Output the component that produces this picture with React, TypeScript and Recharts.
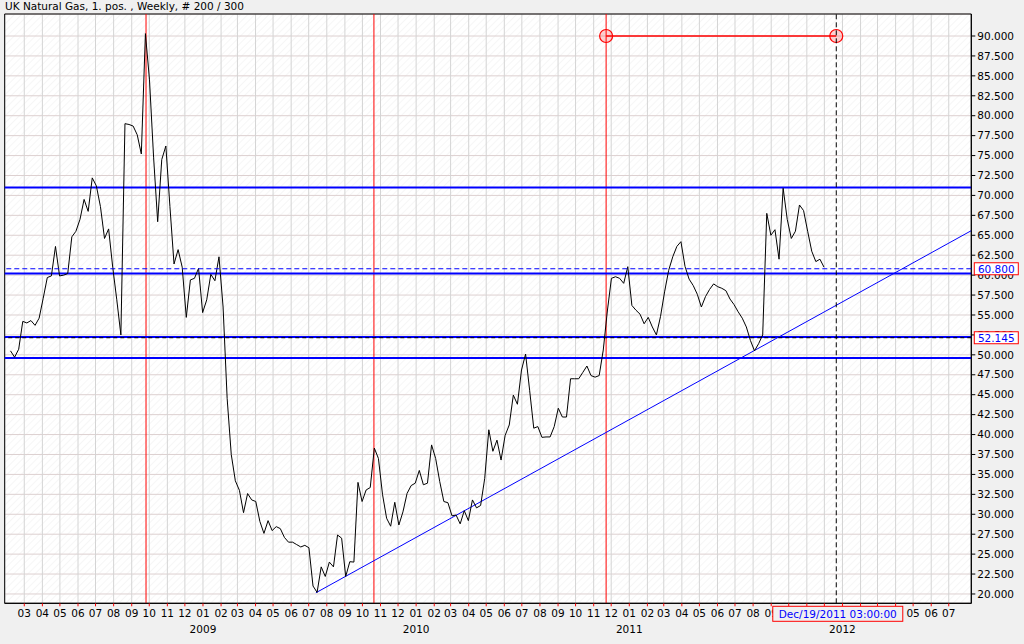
import React from 'react';
import { LineChart, Line, XAxis, YAxis, CartesianGrid, ReferenceLine, ReferenceDot, ReferenceArea } from 'recharts';

// weekly closes (200 bars)
const gasPrices = [
  50.5, 49.7, 50.7, 54.2, 54.0, 54.3, 53.7, 54.6, 57.1, 59.7,
  59.9, 63.6, 59.9, 60.0, 60.2, 64.8, 65.5, 67.0, 69.5, 68.0,
  72.2, 71.2, 68.6, 64.6, 65.8, 61.0, 56.9, 52.5, 79.0, 78.9,
  78.7, 77.6, 75.2, 90.3, 84.5, 74.8, 66.7, 74.5, 76.2, 68.6,
  61.4, 63.2, 61.0, 54.7, 59.4, 59.6, 60.85, 55.3, 56.9, 60.1,
  59.3, 62.3, 56.0, 44.5, 37.5, 34.2, 33.0, 30.2, 32.6, 31.8,
  31.6, 29.1, 27.6, 29.2, 27.95, 28.45, 28.2, 27.1, 26.5, 26.5,
  26.2, 25.9, 26.1, 25.8, 21.0, 20.2, 23.4, 22.2, 24.0, 23.4,
  27.4, 27.0, 22.2, 24.05, 24.0, 34.0, 31.6, 33.05, 33.35, 38.3,
  37.0, 32.5, 29.5, 28.5, 31.5, 28.65, 30.3, 32.6, 33.6, 33.9,
  35.5, 33.7, 33.9, 38.7, 37.0, 34.1, 31.6, 31.45, 29.8, 29.9,
  28.8, 30.45, 29.2, 31.8, 30.8, 31.1, 34.5, 40.6, 37.9, 39.3,
  36.8, 39.9, 41.2, 44.95, 43.8, 48.1, 50.1, 45.5, 40.8, 41.0,
  39.65, 39.7, 39.7, 41.0, 43.3, 42.2, 42.2, 47.0, 47.0, 47.0,
  47.8, 48.6, 47.4, 47.2, 47.4, 50.6, 55.5, 59.6, 59.8, 59.6,
  58.97, 61.06, 56.2, 55.6, 55.1, 53.9, 54.7, 53.5, 52.5, 54.8,
  57.9, 60.6, 62.3, 63.6, 64.2, 61.1, 59.5, 58.7, 57.6, 56.0,
  57.3, 58.2, 58.9, 58.55, 58.35, 58.05, 57.0, 56.3, 55.4, 54.6,
  53.5, 51.8, 50.5, 51.4, 52.5, 67.75, 65.0, 65.7, 62.0, 70.9,
  67.0, 64.6, 65.5, 68.8, 68.1, 65.5, 63.0, 61.7, 62.0, 61.0,
];

const yTicks = [20, 22.5, 25, 27.5, 30, 32.5, 35, 37.5, 40, 42.5, 45, 47.5, 50, 52.5, 55, 57.5, 60, 62.5, 65, 67.5, 70, 72.5, 75, 77.5, 80, 82.5, 85, 87.5, 90];
const supportLevels = [71.0, 60.2, 52.25, 49.6];
const redMarkers = [33.15, 88.9, 145.7];
const trendLine = [{ x: 74.7, y: 20.15 }, { x: 235, y: 65.57 }];
const rangeLine = [{ x: 145.7, y: 90 }, { x: 202.0, y: 90 }];
const lastPrice = 60.8;
const cursorPrice = 52.145;
const cursorWeek = 202.0;
const cursorLabel = 'Dec/19/2011 03:00:00';

// week index 0 = Feb 6 2008
const START = Date.UTC(2008, 1, 6, 10);
const WEEK = 7 * 24 * 3600 * 1000;
const weekOf = (y: number, m: number) => (Date.UTC(y, m - 1, 1) - START) / WEEK;

const monthTicks: { v: number; label: string; year: string | null }[] = [];
for (let k = 0; k < 53; k++) {
  const y = 2008 + Math.floor((2 + k) / 12);
  const m = ((2 + k) % 12) + 1;
  monthTicks.push({ v: weekOf(y, m), label: String(m).padStart(2, '0'), year: m === 1 ? String(y) : null });
}

const data = gasPrices.map((v, i) => ({ i, v }));
const font = 'DejaVu Sans';

// month labels that sit fully under the cursor date box are not drawn
const underDateBox = (v: number) => v > cursorWeek - 14 && v < cursorWeek + 15;

const MonthTick = (props: any) => {
  const { x, y, payload } = props;
  const t = monthTicks.find(m => Math.abs(m.v - payload.value) < 0.01);
  if (!t) return null;
  const hideMonth = underDateBox(t.v);
  return (
    <g>
      {!hideMonth && <text x={x} y={y + 9} textAnchor="middle" fontSize={10.5} fontFamily={font} fill="#000">{t.label}</text>}
      {t.year && <text x={x} y={y + 25} textAnchor="middle" fontSize={10.5} fontFamily={font} fill="#000">{t.year}</text>}
    </g>
  );
};

const PriceBox = (props: any) => {
  const { viewBox, text } = props;
  const bx = viewBox.x + viewBox.width + 3;
  return (
    <g>
      <rect x={bx} y={viewBox.y - 6} width={44} height={12} fill="#fff" stroke="#ff0000" />
      <text x={bx + 22} y={viewBox.y + 4} textAnchor="middle" fontSize={10.5} fontFamily={font} fill="#0000ff">{text}</text>
    </g>
  );
};

const DateBox = (props: any) => {
  const { viewBox } = props;
  const cx = viewBox.x + 1.5;
  const by = viewBox.y + viewBox.height + 3;
  return (
    <g>
      <rect x={cx - 65} y={by} width={130} height={15} fill="#f0f0f0" stroke="#ff0000" />
      <text x={cx} y={by + 11.5} textAnchor="middle" fontSize={10.5} fontFamily={font} fill="#0000ff">{cursorLabel}</text>
    </g>
  );
};

const App: React.FC = () => {
  return (
    <div style={{ position: 'absolute', left: 0, top: 0, width: 1024, height: 644, background: '#f0f0f0', overflow: 'hidden' }}>
      <div style={{ position: 'absolute', left: 5, top: 0, fontFamily: font, fontSize: 10.5, color: '#000', lineHeight: '13px' }}>
        UK Natural Gas, 1. pos. , Weekly, # 200 / 300
      </div>
      <LineChart width={1024} height={644} data={data} margin={{ top: 14, right: 0, bottom: 0, left: 4.7 }}>
        <defs>
          <pattern id="hatch" width="5" height="5" patternUnits="userSpaceOnUse" patternTransform="rotate(45)">
            <rect width="5" height="5" fill="#ffffff" />
            <line x1="0" y1="0" x2="0" y2="5" stroke="#f3f3f3" strokeWidth="1.5" />
          </pattern>
        </defs>
        <CartesianGrid vertical={false} stroke="#ddd0d0" fill="url(#hatch)" />
        <CartesianGrid horizontal={false} stroke="#d4d4d4" />
        <XAxis
          dataKey="i"
          type="number"
          domain={[-1.42, 235.03]}
          allowDataOverflow
          ticks={monthTicks.map(m => m.v)}
          interval={0}
          tick={<MonthTick />}
          tickSize={3}
          tickMargin={2}
          tickLine={{ stroke: '#ff0000' }}
          axisLine={{ stroke: '#000' }}
          height={40.7}
        />
        <YAxis
          orientation="right"
          type="number"
          domain={[18.83, 92.76]}
          allowDataOverflow
          ticks={yTicks}
          interval={0}
          tickFormatter={(v: number) => v.toFixed(3)}
          tick={{ fill: '#000', fontSize: 10.5, fontFamily: font }}
          tickSize={4}
          tickMargin={2}
          tickLine={{ stroke: '#000' }}
          axisLine={{ stroke: '#000' }}
          width={52.7}
        />
        <ReferenceArea x1={-1.42} x2={235.03} y1={18.83} y2={92.76} fill="none" stroke="#000" ifOverflow="visible" />
        {redMarkers.map(x => (
          <ReferenceLine key={x} x={x} stroke="#ff0000" strokeWidth={1} />
        ))}
        {supportLevels.map(y => (
          <ReferenceLine key={y} y={y} stroke="#0000ff" strokeWidth={2} />
        ))}
        <ReferenceLine segment={trendLine} stroke="#0000ff" strokeWidth={1} ifOverflow="visible" />
        <Line type="linear" dataKey="v" stroke="#000" strokeWidth={1} dot={false} isAnimationActive={false} />
        <ReferenceLine segment={rangeLine} stroke="#ff0000" strokeWidth={1.5} />
        {rangeLine.map(p => (
          <ReferenceDot key={p.x} x={p.x} y={p.y} r={6.5} fill="rgba(255,0,0,0.18)" stroke="#ff0000" strokeWidth={1.2} />
        ))}
        <ReferenceLine y={cursorPrice} stroke="#000" strokeDasharray="4 3" strokeWidth={1} zIndex={3000} label={<PriceBox text={cursorPrice.toFixed(3)} />} />
        <ReferenceLine y={lastPrice} stroke="#0000ff" strokeDasharray="5 3" strokeWidth={1} zIndex={3000} label={<PriceBox text={lastPrice.toFixed(3)} />} />
        <ReferenceLine x={cursorWeek} stroke="#000" strokeDasharray="5 3" strokeWidth={1} zIndex={3000} label={<DateBox />} />
      </LineChart>
    </div>
  );
};

export default App;
